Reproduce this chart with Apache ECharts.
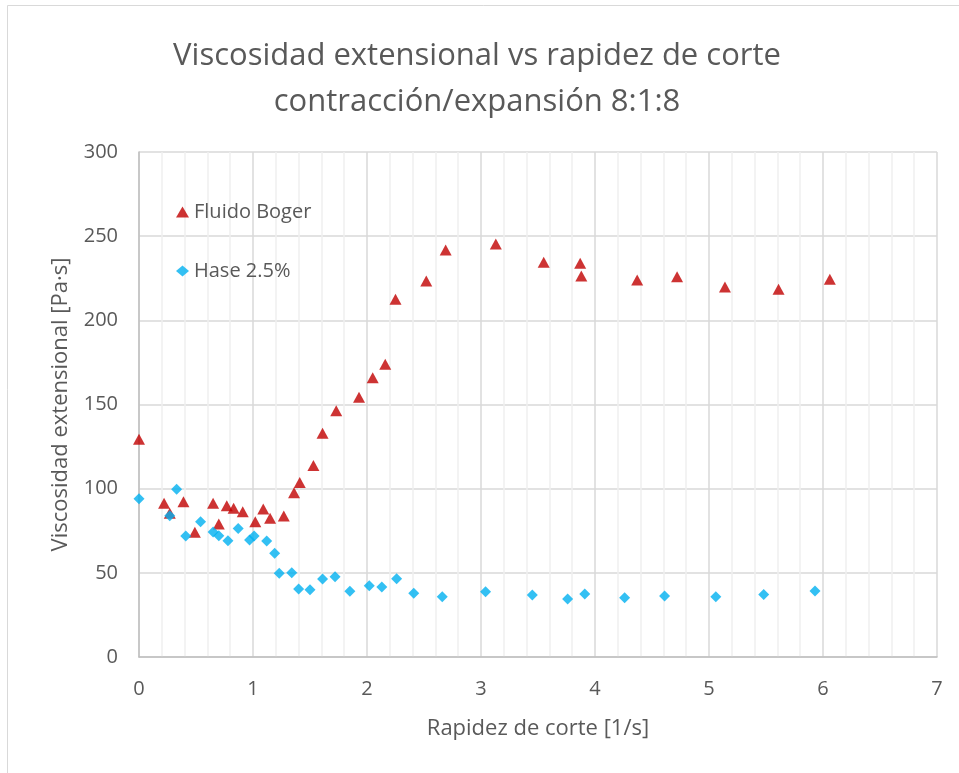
<!DOCTYPE html>
<html>
<head>
<meta charset="utf-8">
<script src="https://cdn.jsdelivr.net/npm/echarts@6/dist/echarts.min.js"></script>
<style>
  html, body { margin: 0; padding: 0; background: #ffffff; }
  #chart { width: 959px; height: 773px; }
</style>
</head>
<body>
<div id="chart"></div>
<script>
// Fluido Boger: shear rate [1/s] and extensional viscosity [Pa·s]
const bogerX = [0.00, 0.22, 0.27, 0.39, 0.49, 0.65, 0.70, 0.77, 0.83, 0.91, 1.02, 1.09, 1.15, 1.27,
                1.36, 1.41, 1.53, 1.61, 1.73, 1.93, 2.05, 2.16, 2.25, 2.52, 2.69, 3.13, 3.55, 3.87,
                3.88, 4.37, 4.72, 5.14, 5.61, 6.06];
const bogerY = [129.3, 91.3, 85.4, 92.3, 74.1, 91.3, 79.0, 89.9, 88.3, 86.3, 80.4, 87.9, 82.4, 83.8,
                97.6, 103.6, 113.7, 132.9, 146.3, 154.3, 165.9, 173.9, 212.5, 223.4, 241.8, 245.4, 234.5, 233.9,
                226.3, 224.0, 225.9, 219.8, 218.4, 224.4];

// Hase 2.5%
const haseX = [0.00, 0.27, 0.33, 0.41, 0.54, 0.65, 0.70, 0.78, 0.87, 0.97, 1.01, 1.12, 1.19, 1.23,
               1.34, 1.40, 1.50, 1.61, 1.72, 1.85, 2.02, 2.13, 2.26, 2.41, 2.66, 3.04, 3.45, 3.76,
               3.91, 4.26, 4.61, 5.06, 5.48, 5.93];
const haseY = [94.0, 83.9, 99.6, 71.9, 80.4, 74.3, 72.1, 69.1, 76.4, 69.5, 71.9, 68.9, 61.6, 49.7,
               50.1, 40.4, 40.0, 46.3, 47.7, 39.0, 42.4, 41.6, 46.5, 37.8, 35.8, 38.8, 36.8, 34.5,
               37.4, 35.2, 36.2, 35.8, 37.2, 39.2];

const seriesNames = ['Fluido Boger', 'Hase 2.5%'];
const xTicks = { min: 0, max: 7, interval: 1 };
const yTicks = { min: 0, max: 300, interval: 50 };

const pair = (xs, ys) => xs.map((x, i) => [x, ys[i]]);

const textColor = '#595959';
const fontFamily = '"Open Sans", "Noto Sans", sans-serif';

const chart = echarts.init(document.getElementById('chart'), null, { renderer: 'canvas' });

chart.setOption({
  backgroundColor: '#ffffff',
  animation: false,
  textStyle: { fontFamily: fontFamily },
  graphic: [{
    type: 'rect',
    shape: { x: 7.5, y: 5.5, width: 1000, height: 1000 },
    style: { fill: 'none', stroke: '#d9d9d9', lineWidth: 1 },
    silent: true,
    z: -10
  }],
  title: {
    text: 'Viscosidad extensional vs rapidez de corte\ncontracción/expansión 8:1:8',
    left: 472,
    textAlign: 'center',
    top: 28,
    textStyle: {
      color: textColor,
      fontSize: 31,
      fontWeight: 'normal',
      lineHeight: 46,
      fontFamily: fontFamily
    }
  },
  legend: {
    orient: 'vertical',
    left: 171,
    top: 197,
    itemGap: 39,
    itemWidth: 13,
    itemHeight: 11,
    data: [
      { name: seriesNames[0], icon: 'triangle' },
      { name: seriesNames[1], icon: 'diamond' }
    ],
    textStyle: { color: textColor, fontSize: 20, fontFamily: fontFamily }
  },
  grid: { left: 139, right: 22, top: 152, bottom: 116, containLabel: false },
  xAxis: {
    type: 'value',
    min: xTicks.min, max: xTicks.max, interval: xTicks.interval,
    name: 'Rapidez de corte [1/s]',
    nameLocation: 'middle',
    nameGap: 61,
    nameTextStyle: { color: textColor, fontSize: 22, fontFamily: fontFamily },
    axisLine: { show: true, lineStyle: { color: '#bfbfbf', width: 1.5 } },
    axisTick: { show: false },
    axisLabel: { color: textColor, fontSize: 20, margin: 22, fontFamily: fontFamily },
    splitLine: { show: true, lineStyle: { color: '#d9d9d9', width: 1.5 } },
    minorTick: { show: false, splitNumber: 5 },
    minorSplitLine: { show: true, lineStyle: { color: '#efefef', width: 1.5 } }
  },
  yAxis: {
    type: 'value',
    min: yTicks.min, max: yTicks.max, interval: yTicks.interval,
    name: 'Viscosidad extensional [Pa·s]',
    nameLocation: 'middle',
    nameGap: 67,
    nameTextStyle: { color: textColor, fontSize: 22, fontFamily: fontFamily },
    axisLine: { show: true, lineStyle: { color: '#bfbfbf', width: 1.5 } },
    axisTick: { show: false },
    axisLabel: { color: textColor, fontSize: 20, margin: 21, fontFamily: fontFamily },
    splitLine: { show: true, lineStyle: { color: '#d9d9d9', width: 1.5 } }
  },
  series: [
    {
      name: seriesNames[0],
      type: 'scatter',
      symbol: 'triangle',
      symbolSize: [12, 11],
      itemStyle: { color: '#c00000' },
      data: pair(bogerX, bogerY)
    },
    {
      name: seriesNames[1],
      type: 'scatter',
      symbol: 'diamond',
      symbolSize: 11,
      itemStyle: { color: '#00b0f0' },
      data: pair(haseX, haseY)
    }
  ]
});
</script>
</body>
</html>
